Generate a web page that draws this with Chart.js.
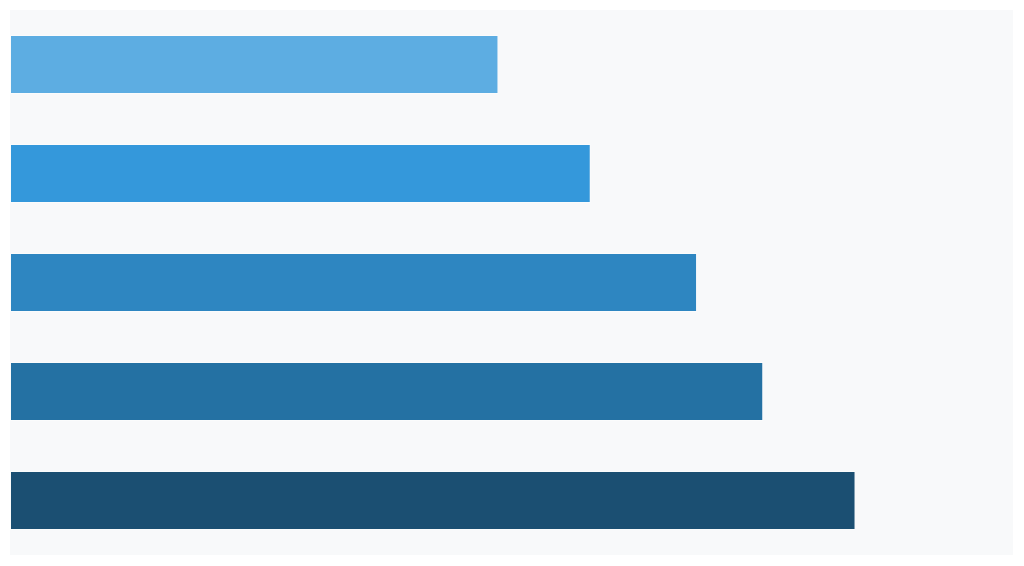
<!DOCTYPE html>
<html>
<head>
<meta charset="utf-8">
<script src="https://cdn.jsdelivr.net/npm/chart.js@4"></script>
<style>
  html, body { margin: 0; padding: 0; background: #ffffff; }
  #wrap { width: 1024px; height: 566px; }
</style>
</head>
<body>
<div id="wrap"><canvas id="myChart"></canvas></div>
<script>
// categories (no labels are shown in the picture)
let categories = ['Item 1', 'Item 2', 'Item 3', 'Item 4', 'Item 5'];
let values = [48.7, 57.9, 68.5, 75.1, 84.3];
let barColors = ['#5DADE2', '#3498DB', '#2E86C1', '#2471A3', '#1B4F72'];

// fill the plot area with the light panel colour
const panelBackground = {
  id: 'panelBackground',
  beforeDraw(chart) {
    const {ctx, chartArea} = chart;
    ctx.save();
    ctx.fillStyle = '#F8F9FA';
    ctx.fillRect(chartArea.left, chartArea.top, chartArea.right - chartArea.left, chartArea.bottom - chartArea.top);
    ctx.restore();
  }
};

var ctx = document.getElementById('myChart').getContext('2d');
var chart = new Chart(ctx, {
  type: 'bar',
  data: {
    labels: categories,
    datasets: [{
      data: values,
      backgroundColor: barColors,
      borderColor: 'rgba(255, 255, 255, 0.45)',
      borderWidth: 1,
      borderSkipped: false,
      barPercentage: 1,
      categoryPercentage: 0.54
    }]
  },
  options: {
    indexAxis: 'y',
    responsive: true,
    maintainAspectRatio: false,
    animation: false,
    layout: { padding: { left: 10, top: 10, right: 11, bottom: 11 } },
    plugins: {
      legend: { display: false },
      tooltip: { enabled: false }
    },
    scales: {
      x: { display: false, min: 0, max: 100 },
      y: { display: false }
    }
  },
  plugins: [panelBackground]
});
</script>
</body>
</html>
